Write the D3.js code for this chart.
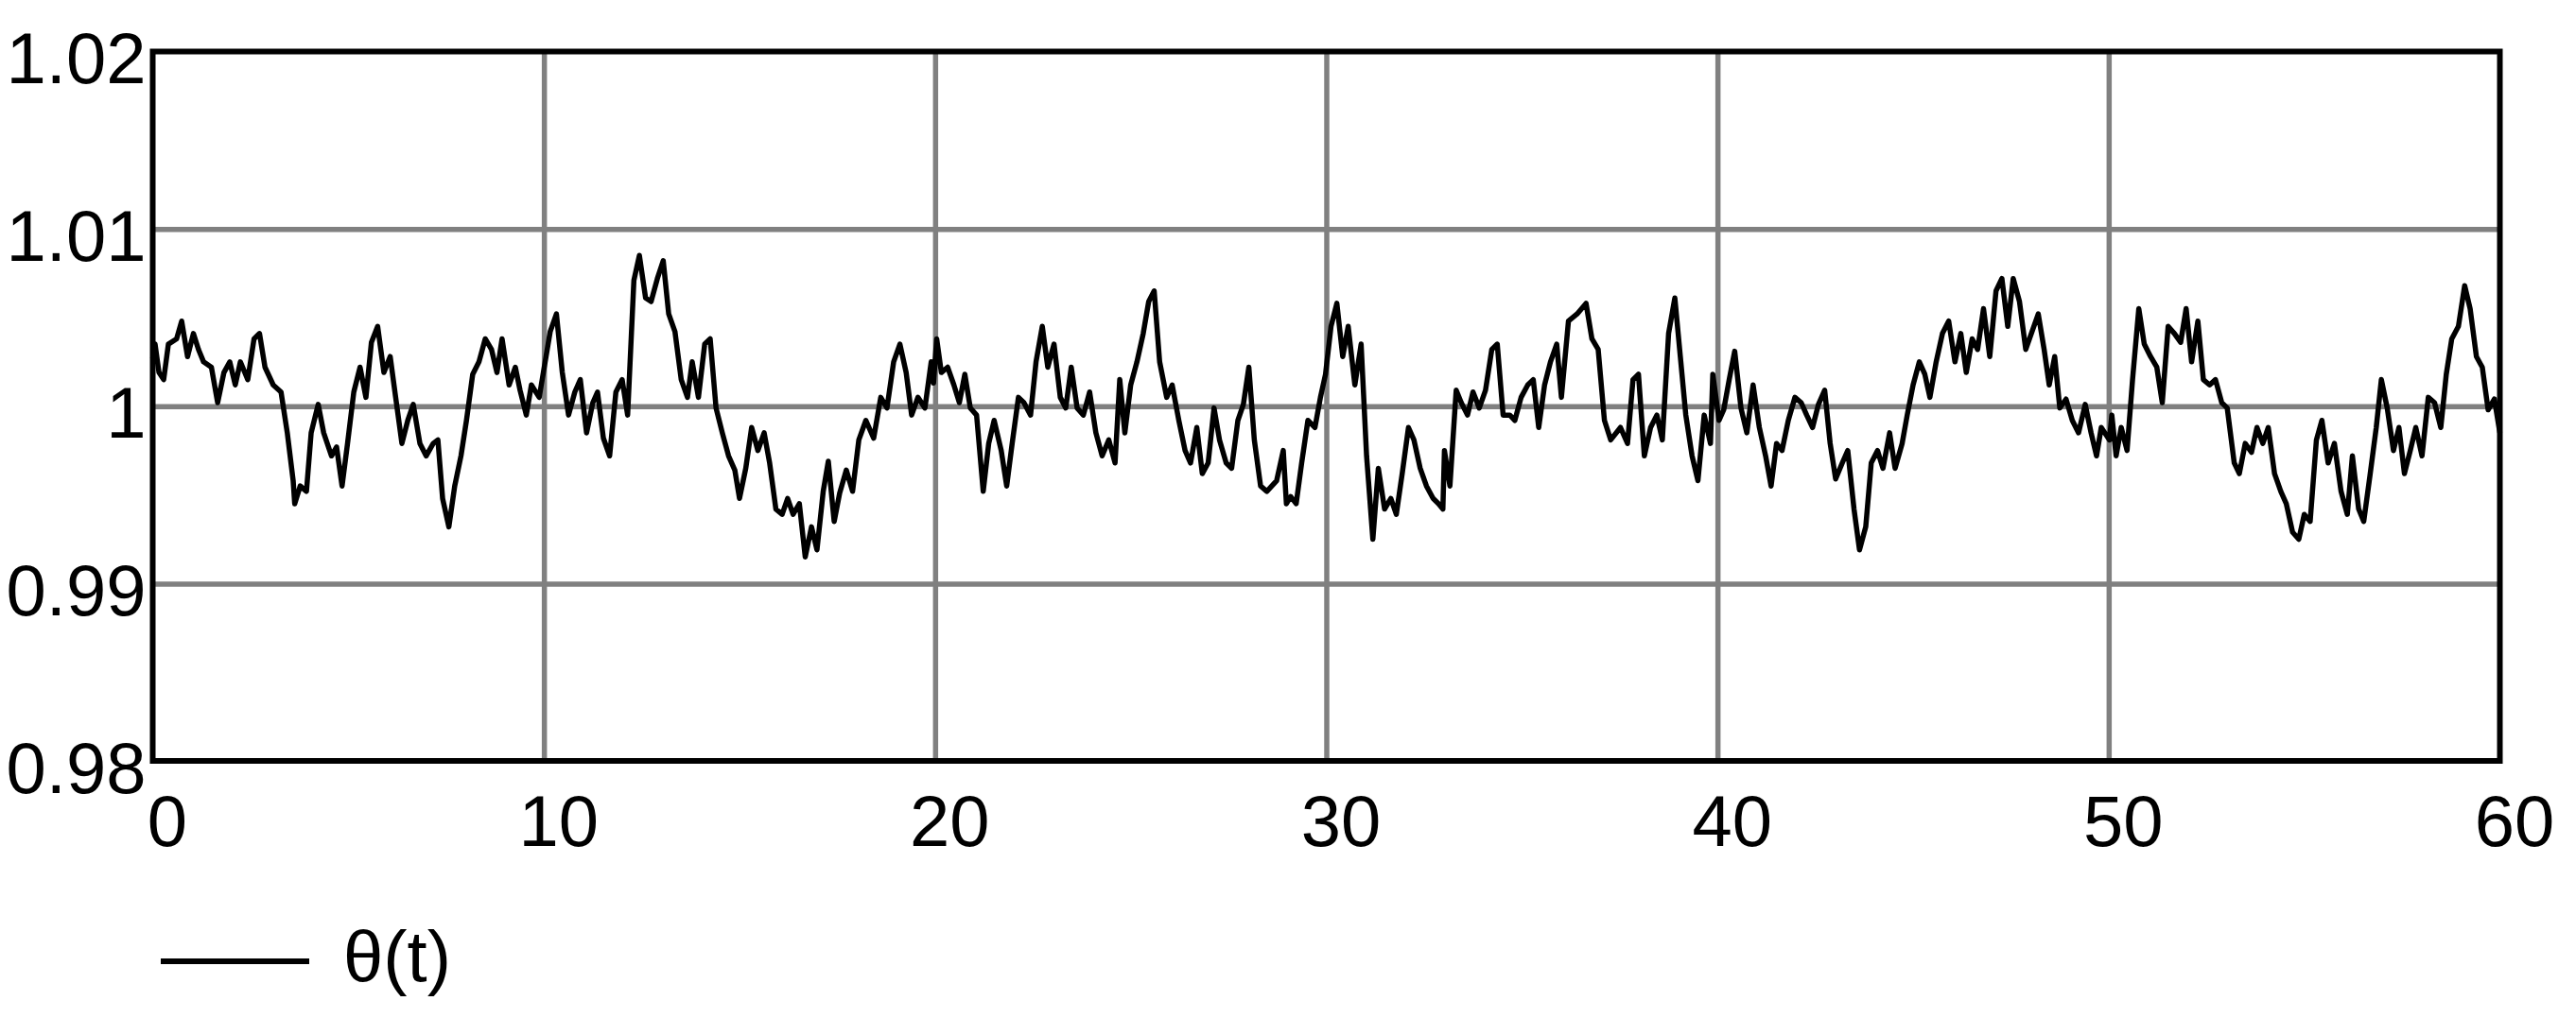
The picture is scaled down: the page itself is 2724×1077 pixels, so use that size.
<!DOCTYPE html>
<html lang="en">
<head>
<meta charset="utf-8">
<title>theta(t)</title>
<script src="https://d3js.org/d3.v7.min.js"></script>
<style>
    body { margin: 0; background: #fff; }
    svg { display: block; background: #fff; }
    .lbl text { font-family: "Liberation Sans", Arial, sans-serif; font-size: 76px; fill: #000; }
</style>
</head>
<body>
<script>
// t (s) and theta(t) at the turning points of the trace
var timeValues = [
    0.00, 0.06, 0.16, 0.28, 0.40, 0.61, 0.74, 0.89, 1.04, 1.17, 1.30, 1.50, 1.66, 1.82, 1.97, 2.11, 2.24, 2.43, 2.59, 2.73,
    2.87, 3.08, 3.28, 3.44, 3.59, 3.63, 3.77, 3.93, 4.05, 4.23, 4.37, 4.57, 4.70, 4.84, 4.98, 5.14, 5.30, 5.45, 5.59, 5.75,
    5.91, 6.07, 6.21, 6.37, 6.52, 6.66, 6.83, 6.99, 7.17, 7.29, 7.41, 7.57, 7.72, 7.88, 8.02, 8.18, 8.34, 8.50, 8.66, 8.80,
    8.93, 9.11, 9.27, 9.39, 9.55, 9.68, 9.88, 10.16, 10.32, 10.47, 10.63, 10.79, 10.93, 11.09, 11.25, 11.37, 11.52, 11.68, 11.84, 12.00,
    12.14, 12.30, 12.44, 12.60, 12.74, 12.90, 13.05, 13.19, 13.35, 13.51, 13.67, 13.79, 13.95, 14.11, 14.25, 14.40, 14.56, 14.72, 14.88, 15.00,
    15.16, 15.31, 15.47, 15.63, 15.77, 15.93, 16.09, 16.23, 16.37, 16.53, 16.68, 16.84, 16.98, 17.14, 17.27, 17.42, 17.56, 17.73, 17.89, 18.05,
    18.23, 18.43, 18.61, 18.77, 18.94, 19.10, 19.26, 19.40, 19.56, 19.74, 19.90, 19.96, 20.04, 20.16, 20.32, 20.48, 20.62, 20.76, 20.90, 21.06,
    21.23, 21.37, 21.51, 21.69, 21.83, 21.97, 22.13, 22.27, 22.44, 22.58, 22.74, 22.88, 23.04, 23.20, 23.34, 23.48, 23.63, 23.79, 23.95, 24.11,
    24.27, 24.44, 24.60, 24.72, 24.85, 25.00, 25.16, 25.32, 25.46, 25.60, 25.74, 25.92, 26.06, 26.23, 26.39, 26.53, 26.69, 26.83, 26.98, 27.13,
    27.27, 27.44, 27.58, 27.74, 27.88, 28.02, 28.16, 28.32, 28.48, 28.73, 28.90, 28.98, 29.09, 29.23, 29.37, 29.53, 29.71, 29.85, 29.98, 30.12,
    30.27, 30.42, 30.56, 30.73, 30.89, 31.03, 31.19, 31.33, 31.49, 31.65, 31.79, 31.94, 32.10, 32.24, 32.40, 32.56, 32.73, 32.87, 32.98, 33.02,
    33.16, 33.32, 33.45, 33.61, 33.75, 33.91, 34.07, 34.23, 34.37, 34.52, 34.69, 34.82, 34.98, 35.15, 35.29, 35.43, 35.58, 35.73, 35.89, 36.01,
    36.19, 36.41, 36.64, 36.79, 36.95, 37.11, 37.27, 37.52, 37.70, 37.84, 37.98, 38.13, 38.29, 38.45, 38.59, 38.75, 38.91, 39.05, 39.19, 39.35,
    39.50, 39.66, 39.82, 39.88, 40.04, 40.16, 40.30, 40.44, 40.60, 40.75, 40.91, 41.07, 41.23, 41.37, 41.51, 41.65, 41.81, 41.98, 42.14, 42.28,
    42.43, 42.58, 42.74, 42.88, 43.02, 43.19, 43.33, 43.49, 43.63, 43.79, 43.93, 44.09, 44.23, 44.40, 44.54, 44.72, 44.85, 45.00, 45.16, 45.30,
    45.43, 45.59, 45.75, 45.91, 46.07, 46.22, 46.36, 46.51, 46.65, 46.80, 46.96, 47.12, 47.27, 47.42, 47.56, 47.72, 47.88, 48.04, 48.20, 48.35,
    48.48, 48.62, 48.75, 48.91, 49.07, 49.23, 49.40, 49.55, 49.69, 49.81, 50.02, 50.08, 50.19, 50.32, 50.47, 50.61, 50.77, 50.91, 51.07, 51.23,
    51.37, 51.52, 51.68, 51.84, 51.98, 52.12, 52.28, 52.42, 52.58, 52.73, 52.89, 53.03, 53.21, 53.34, 53.49, 53.65, 53.79, 53.94, 54.08, 54.24,
    54.40, 54.54, 54.70, 54.86, 55.00, 55.15, 55.31, 55.45, 55.61, 55.77, 55.94, 56.10, 56.23, 56.39, 56.52, 56.68, 56.84, 56.97, 57.12, 57.28,
    57.42, 57.56, 57.71, 57.85, 58.01, 58.17, 58.33, 58.49, 58.63, 58.77, 58.94, 59.10, 59.24, 59.40, 59.55, 59.70, 59.86, 60.00
];
var thetaValues = [
    1.0027, 1.0035, 1.0019, 1.0015, 1.0035, 1.0038, 1.0048, 1.0028, 1.0041, 1.0032, 1.0025, 1.0022, 1.0002, 1.0019, 1.0025, 1.0012, 1.0025, 1.0015, 1.0038, 1.0041,
    1.0022, 1.0012, 1.0008, 0.9985, 0.9958, 0.9945, 0.9955, 0.9952, 0.9985, 1.0001, 0.9985, 0.9972, 0.9977, 0.9955, 0.9979, 1.0008, 1.0022, 1.0005, 1.0036, 1.0045,
    1.0019, 1.0028, 1.0005, 0.9979, 0.9992, 1.0001, 0.9979, 0.9972, 0.9979, 0.9981, 0.9948, 0.9932, 0.9955, 0.9972, 0.9992, 1.0018, 1.0025, 1.0038, 1.0032, 1.0019,
    1.0038, 1.0012, 1.0022, 1.0009, 0.9995, 1.0012, 1.0005, 1.0042, 1.0052, 1.0019, 0.9995, 1.0008, 1.0015, 0.9985, 1.0002, 1.0008, 0.9982, 0.9972, 1.0008, 1.0015,
    0.9995, 1.0071, 1.0085, 1.0061, 1.0059, 1.0072, 1.0082, 1.0052, 1.0042, 1.0015, 1.0005, 1.0025, 1.0005, 1.0035, 1.0038, 0.9999, 0.9985, 0.9972, 0.9964, 0.9948,
    0.9965, 0.9988, 0.9975, 0.9985, 0.9968, 0.9942, 0.9939, 0.9948, 0.9939, 0.9945, 0.9915, 0.9932, 0.9919, 0.9952, 0.9969, 0.9935, 0.9951, 0.9964, 0.9952, 0.9981,
    0.9992, 0.9982, 1.0005, 0.9999, 1.0025, 1.0035, 1.0019, 0.9995, 1.0005, 0.9999, 1.0025, 1.0013, 1.0038, 1.0019, 1.0022, 1.0012, 1.0002, 1.0018, 0.9999, 0.9995,
    0.9952, 0.9979, 0.9992, 0.9975, 0.9955, 0.9979, 1.0005, 1.0002, 0.9995, 1.0025, 1.0045, 1.0022, 1.0035, 1.0005, 0.9999, 1.0022, 0.9999, 0.9995, 1.0008, 0.9985,
    0.9972, 0.9981, 0.9968, 1.0015, 0.9985, 1.0012, 1.0025, 1.0041, 1.0059, 1.0065, 1.0025, 1.0005, 1.0012, 0.9992, 0.9975, 0.9968, 0.9988, 0.9962, 0.9968, 0.9999,
    0.9981, 0.9968, 0.9965, 0.9992, 1.0001, 1.0022, 0.9981, 0.9955, 0.9952, 0.9958, 0.9975, 0.9945, 0.9949, 0.9945, 0.9968, 0.9992, 0.9988, 1.0005, 1.0018, 1.0045,
    1.0058, 1.0028, 1.0045, 1.0012, 1.0035, 0.9972, 0.9925, 0.9965, 0.9942, 0.9948, 0.9939, 0.9962, 0.9988, 0.9981, 0.9965, 0.9955, 0.9948, 0.9945, 0.9942, 0.9975,
    0.9955, 1.0009, 1.0002, 0.9995, 1.0008, 0.9999, 1.0009, 1.0032, 1.0035, 0.9995, 0.9995, 0.9992, 1.0005, 1.0012, 1.0015, 0.9988, 1.0012, 1.0025, 1.0035, 1.0005,
    1.0048, 1.0052, 1.0058, 1.0038, 1.0032, 0.9992, 0.9981, 0.9988, 0.9979, 1.0015, 1.0018, 0.9972, 0.9988, 0.9995, 0.9981, 1.0041, 1.0061, 1.0028, 0.9995, 0.9972,
    0.9958, 0.9995, 0.9979, 1.0018, 0.9992, 0.9998, 1.0015, 1.0031, 0.9999, 0.9985, 1.0012, 0.9988, 0.9972, 0.9955, 0.9979, 0.9975, 0.9992, 1.0005, 1.0002, 0.9995,
    0.9988, 1.0001, 1.0009, 0.9979, 0.9959, 0.9968, 0.9975, 0.9942, 0.9919, 0.9932, 0.9968, 0.9975, 0.9965, 0.9985, 0.9965, 0.9979, 0.9995, 1.0012, 1.0025, 1.0018,
    1.0005, 1.0025, 1.0041, 1.0048, 1.0025, 1.0041, 1.0019, 1.0038, 1.0032, 1.0055, 1.0028, 1.0065, 1.0072, 1.0045, 1.0072, 1.0059, 1.0032, 1.0042, 1.0052, 1.0032,
    1.0012, 1.0028, 0.9999, 1.0004, 0.9992, 0.9985, 1.0001, 0.9985, 0.9972, 0.9988, 0.9981, 0.9995, 0.9972, 0.9988, 0.9975, 1.0015, 1.0055, 1.0035, 1.0028, 1.0022,
    1.0002, 1.0045, 1.0041, 1.0036, 1.0055, 1.0025, 1.0048, 1.0015, 1.0012, 1.0015, 1.0002, 0.9999, 0.9968, 0.9962, 0.9979, 0.9974, 0.9988, 0.9979, 0.9988, 0.9962,
    0.9952, 0.9945, 0.9929, 0.9925, 0.9939, 0.9935, 0.9981, 0.9992, 0.9968, 0.9979, 0.9952, 0.9939, 0.9972, 0.9942, 0.9935, 0.9961, 0.9988, 1.0015, 0.9999, 0.9975,
    0.9988, 0.9962, 0.9975, 0.9988, 0.9972, 1.0005, 1.0002, 0.9988, 1.0018, 1.0038, 1.0045, 1.0068, 1.0055, 1.0028, 1.0022, 0.9998, 1.0004, 0.9985
];

var xTicks = [0, 10, 20, 30, 40, 50, 60];
var xTickLabels = ["0", "10", "20", "30", "40", "50", "60"];
var yTicks = [0.98, 0.99, 1, 1.01, 1.02];
var yTickLabels = ["0.98", "0.99", "1", "1.01", "1.02"];
var legendLabel = "θ(t)";

var W = 2724, H = 1077;
var plotLeft = 161.5, plotRight = 2643.5, plotTop = 54.5, plotBottom = 805;

var x = d3.scaleLinear().domain([0, 60]).range([plotLeft, plotRight]);
var y = d3.scaleLinear().domain([0.98, 1.02]).range([plotBottom, plotTop]);

var data = timeValues.map(function (t, i) { return { t: t, v: thetaValues[i] }; });

var svg = d3.select("body").append("svg")
    .attr("width", W)
    .attr("height", H);

// grid
var gx = svg.append("g")
    .attr("transform", "translate(0," + plotBottom + ")")
    .call(d3.axisBottom(x).tickValues(xTicks.slice(1, -1)).tickSize(-(plotBottom - plotTop)).tickFormat(""));
var gy = svg.append("g")
    .attr("transform", "translate(" + plotLeft + ",0)")
    .call(d3.axisLeft(y).tickValues(yTicks.slice(1, -1)).tickSize(-(plotRight - plotLeft)).tickFormat(""));
[gx, gy].forEach(function (g) {
    g.select(".domain").remove();
    g.selectAll(".tick line").attr("stroke", "#808080").attr("stroke-width", 5.5);
});

// trace
var line = d3.line()
    .x(function (d) { return x(d.t); })
    .y(function (d) { return y(d.v); });

svg.append("path")
    .datum(data)
    .attr("d", line)
    .attr("fill", "none")
    .attr("stroke", "#000")
    .attr("stroke-width", 5.5)
    .attr("stroke-linejoin", "round");

// frame
svg.append("rect")
    .attr("x", plotLeft)
    .attr("y", plotTop)
    .attr("width", plotRight - plotLeft)
    .attr("height", plotBottom - plotTop)
    .attr("fill", "none")
    .attr("stroke", "#000")
    .attr("stroke-width", 6);

// tick labels
var lx = svg.append("g")
    .attr("class", "lbl")
    .attr("transform", "translate(0," + plotBottom + ")")
    .call(d3.axisBottom(x).tickValues(xTicks).tickSize(0)
        .tickFormat(function (d, i) { return xTickLabels[i]; }));
lx.attr("font-family", null).attr("font-size", null);
lx.select(".domain").remove();
lx.selectAll("text")
    .attr("dy", null)
    .attr("y", 90)
    .attr("x", 15);

var ly = svg.append("g")
    .attr("class", "lbl")
    .attr("transform", "translate(" + plotLeft + ",0)")
    .call(d3.axisLeft(y).tickValues(yTicks).tickSize(0)
        .tickFormat(function (d, i) { return yTickLabels[i]; }));
ly.attr("font-family", null).attr("font-size", null);
ly.select(".domain").remove();
ly.selectAll("text")
    .attr("dy", null)
    .attr("x", -7)
    .attr("y", 33);

// legend
var lg = svg.append("g").attr("class", "lbl");
lg.append("line")
    .attr("x1", 170).attr("x2", 327)
    .attr("y1", 1017).attr("y2", 1017)
    .attr("stroke", "#000")
    .attr("stroke-width", 6);
lg.append("text")
    .attr("x", 363)
    .attr("y", 1038)
    .text(legendLabel);
</script>
</body>
</html>
